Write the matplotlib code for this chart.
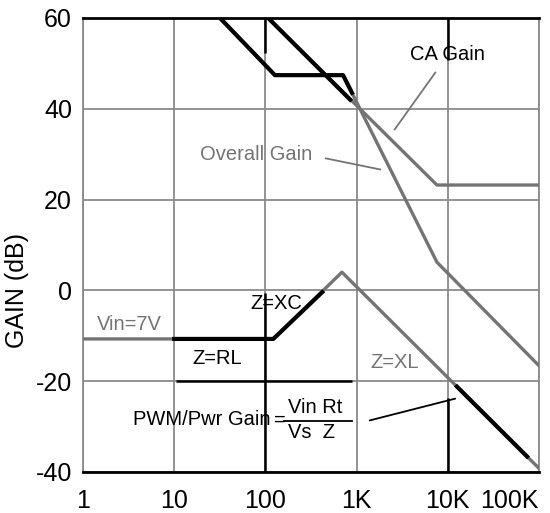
import matplotlib
matplotlib.use("Agg")
import matplotlib.pyplot as plt

plt.rcParams['font.family'] = ['Liberation Sans', 'DejaVu Sans']
plt.rcParams['axes.unicode_minus'] = False

# ---- data (frequency in Hz, gain in dB) ----
decades = [1, 10, 100, 1000, 10000, 100000]
decade_labels = ['1', '10', '100', '1K', '10K', '100K']
gain_ticks = [-40, -20, 0, 20, 40, 60]

# CA gain: -20 dB/dec then flat
ca_freq = [107, 7600, 100000]
ca_gain = [60, 23.2, 23.2]
ca_black_freq = [107, 850]
ca_black_gain = [60, 42.0]

# overall gain = CA + PWM
overall_freq = [31.7, 127, 710, 7600, 100000]
overall_gain = [60, 47.4, 47.4, 6.2, -16.6]
overall_black_freq = [31.7, 127, 710, 890]
overall_black_gain = [60, 47.4, 47.4, 43.5]

# PWM / power stage gain
pwm_freq = [1, 122, 690, 100000]
pwm_gain = [-10.7, -10.7, 4.0, -39.2]
pwm_black1_freq = [10, 122, 420]
pwm_black1_gain = [-10.7, -10.7, -0.4]
pwm_black2_freq = [12600, 74000]
pwm_black2_gain = [-21.2, -36.6]

GRAY = '#747474'
GRID = '#8a8a8a'

fig = plt.figure(figsize=(5.5, 5.13), dpi=100)
ax = fig.add_axes([0.151, 0.080, 0.829, 0.885])

ax.set_xscale('log')
ax.set_xlim(1, 100000)
ax.set_ylim(-40, 60)
ax.set_xticks(decades)
ax.set_xticklabels(decade_labels)
ax.minorticks_off()
ax.set_yticks(gain_ticks)
ax.tick_params(length=0, labelsize=18)
ax.tick_params(axis='x', pad=12)
ax.tick_params(axis='y', pad=8)
for lab in ax.get_xticklabels():
    lab.set_family(['Liberation Sans Narrow', 'Liberation Sans', 'DejaVu Sans'])
ax.get_xticklabels()[-1].set_horizontalalignment('right')

ax.grid(True, color=GRID, lw=1.3)
ax.set_axisbelow(True)
for side in ['left', 'right']:
    ax.spines[side].set_color(GRID)
    ax.spines[side].set_linewidth(1.3)
for side in ['top', 'bottom']:
    ax.spines[side].set_color('black')
    ax.spines[side].set_linewidth(2)

# darker pieces of the grid
ax.vlines(100, -40, -0.6, color='black', lw=1.8, zorder=2)
ax.vlines(100, 52.3, 60, color='black', lw=1.8, zorder=2)
ax.vlines(10000, -40, -23.6, color='black', lw=1.8, zorder=2)
ax.vlines(10000, 50.7, 60, color='black', lw=1.8, zorder=2)
ax.hlines(-20, 10.5, 900, color='black', lw=1.8, zorder=2)

# curves
ax.plot(ca_freq, ca_gain, color=GRAY, lw=2.4, zorder=3)
ax.plot(overall_freq, overall_gain, color=GRAY, lw=2.4, zorder=3)
ax.plot(pwm_freq, pwm_gain, color=GRAY, lw=2.4, zorder=3)
ax.plot(ca_black_freq, ca_black_gain, color='black', lw=3, zorder=4)
ax.plot(overall_black_freq, overall_black_gain, color='black', lw=3, zorder=4)
ax.plot(pwm_black1_freq, pwm_black1_gain, color='black', lw=3, zorder=4)
ax.plot(pwm_black2_freq, pwm_black2_gain, color='black', lw=3, zorder=4)

# labels
fs = 14.5
ax.text(10000, 51.9, 'CA Gain', fontsize=fs, ha='center', va='center', zorder=5)
ax.text(19.2, 30.0, 'Overall Gain', fontsize=fs, color=GRAY, ha='left', va='center')
ax.text(1.42, -7.6, 'Vin=7V', fontsize=fs, color=GRAY, ha='left', va='center')
ax.text(15.7, -14.9, 'Z=RL', fontsize=fs, ha='left', va='center')
ax.text(68, -2.8, 'Z=XC', fontsize=fs, ha='left', va='center')
ax.text(1400, -15.8, 'Z=XL', fontsize=fs, color=GRAY, ha='left', va='center')
ax.text(3.53, -28.5, 'PWM/Pwr Gain', fontsize=fs, ha='left', va='center')
ax.text(145, -28.6, '=', fontsize=fs, ha='center', va='center')
ax.text(177, -25.9, 'Vin Rt', fontsize=fs, ha='left', va='center')
ax.text(177, -31.4, 'Vs  Z', fontsize=fs, ha='left', va='center')
ax.plot([160, 880], [-28.8, -28.8], color='black', lw=1.3)

# pointer lines
ax.annotate('', xy=(1950, 26.5), xytext=(427, 29.2),
            arrowprops=dict(arrowstyle='-', color=GRAY, lw=1.3))
ax.annotate('', xy=(2500, 34.9), xytext=(7620, 48.5),
            arrowprops=dict(arrowstyle='-', color=GRAY, lw=1.3))
ax.annotate('', xy=(12900, -23.7), xytext=(1300, -28.8),
            arrowprops=dict(arrowstyle='-', color='black', lw=1.3))

ax.set_ylabel('GAIN (dB)', fontsize=18)
ax.yaxis.set_label_coords(-0.118, 0.40)

fig.savefig('out.png', dpi=100)
